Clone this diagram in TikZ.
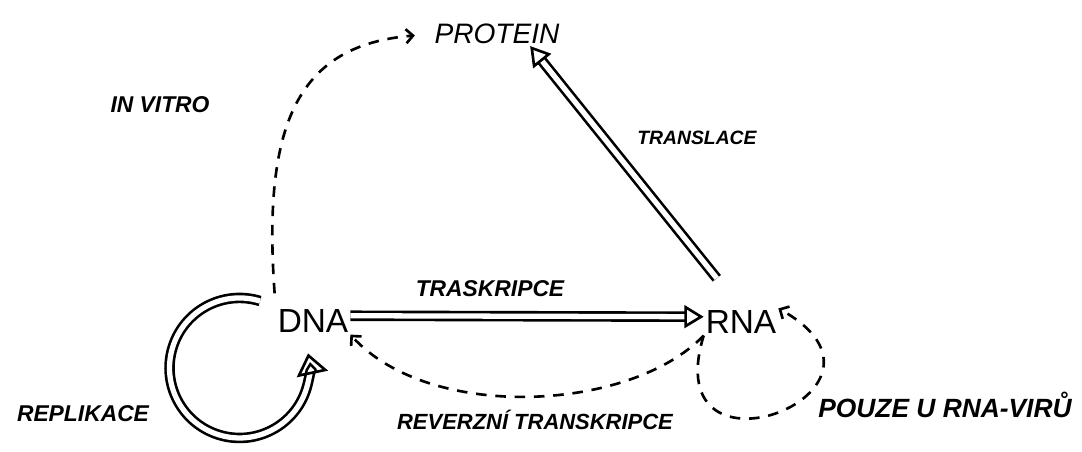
\documentclass[tikz,border=0pt]{standalone}
\usepackage{fontspec}
\setmainfont{Liberation Sans}
\usetikzlibrary{arrows.meta}
\tikzset{
  mol node/.style={font=\fontsize{19}{20}\selectfont,inner sep=1pt},
  step label/.style={font=\fontsize{13}{14}\selectfont\bfseries\itshape,inner sep=0pt},
  main flow/.style={double,line width=1.5pt,double distance=3pt,-{Triangle[open,length=11pt,width=13pt]}},
  rare flow/.style={line width=1.5pt,dash pattern=on 6pt off 5pt,-{Straight Barb[length=4pt,width=8pt]}},
}

\begin{document}
\begin{tikzpicture}[x=0.02cm,y=-0.02cm]
  \useasboundingbox (0,0) rectangle (1082,451);
  \node[mol node] (dna) at (313,321) {DNA};
  \node[mol node] (rna) at (741,322) {RNA};
  \node[mol node,font=\fontsize{16}{17}\selectfont\itshape] (protein) at (497,34) {PROTEIN};
  \node[step label] (invitro) at (160,105) {IN VITRO};
  \node[step label,font=\fontsize{11}{12}\selectfont\bfseries\itshape] (translace) at (697,138) {TRANSLACE};
  \node[step label] (traskripce) at (490,289) {TRASKRIPCE};
  \node[step label] (replikace) at (83,414) {REPLIKACE};
  \node[step label,font=\fontsize{12.5}{13}\selectfont\bfseries\itshape] (reverzni) at (535,420) {REVERZNÍ TRANSKRIPCE};
  \node[step label,font=\fontsize{15}{16}\selectfont\bfseries\itshape] (pouze) at (945,405) {POUZE U RNA-VIRŮ};
  \coordinate (rep start) at ([shift={(-53,-20)}]dna.center);
  \draw[main flow] ([yshift=3pt]dna.east) -- ([yshift=3pt]rna.west);
  \draw[main flow,shorten <=22pt] (rna.north) -- (protein.-20);
  \draw[main flow,-{Triangle[open,length=12pt,width=18pt]}] (rep start) arc[start angle=-73,end angle=-372,radius=70];
  \draw[rare flow,shorten <=8pt,shorten >=10pt] (dna.north west) .. controls (262,120) and (300,45) .. (protein.west);
  \draw[rare flow] (rna.south west) .. controls (630,412) and (430,422) .. (dna.south east);
  \draw[rare flow] (rna.south west) .. controls (655,495) and (925,390) .. (rna.north east);
\end{tikzpicture}
\end{document}
